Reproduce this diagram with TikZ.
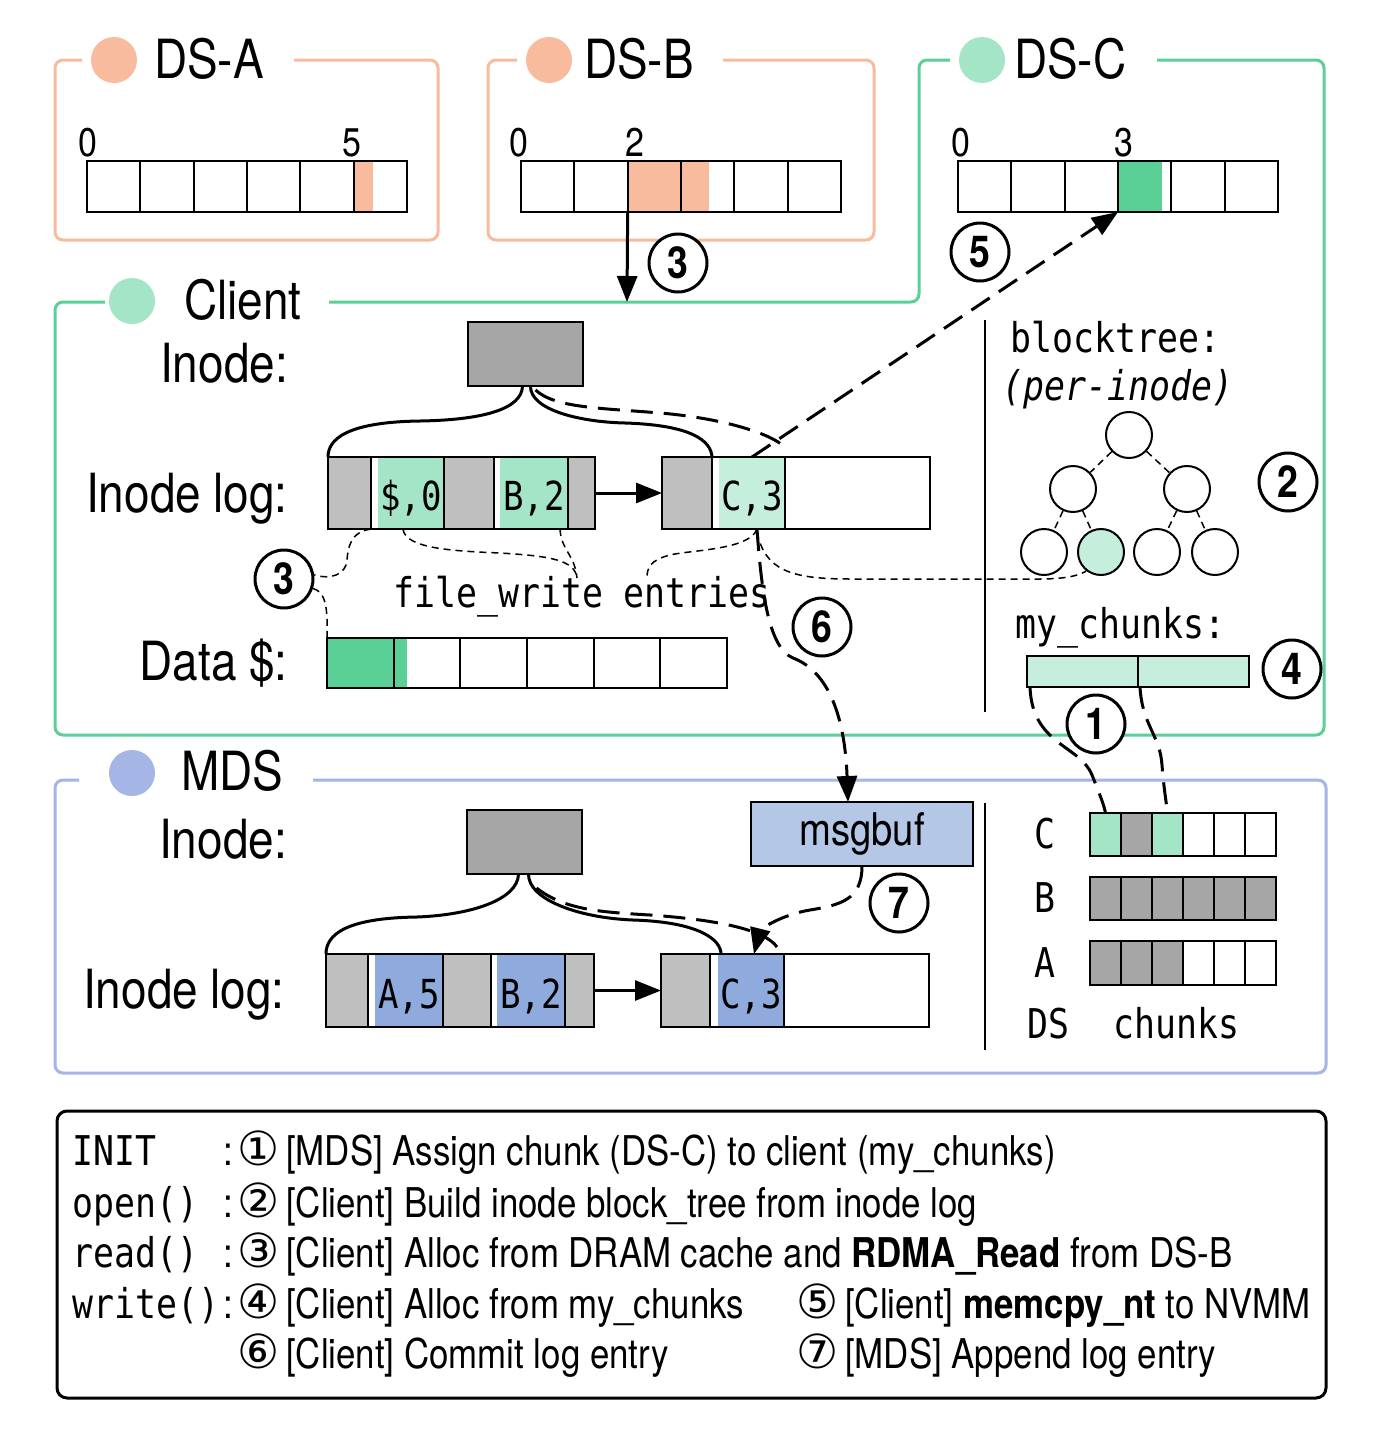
\documentclass[tikz,border=0pt]{standalone}
\usepackage{fontspec}
\usetikzlibrary{arrows.meta}
\newfontfamily\nsans[FakeStretch=0.85]{TeX Gyre Heros}
\newfontfamily\nmono[FakeStretch=0.85]{DejaVu Sans Mono}
\newfontfamily\dvs{DejaVu Sans}
\newcommand\ftitle{\nsans\fontsize{54}{60}\selectfont}
\newcommand\fdigit{\nsans\fontsize{40}{48}\selectfont}
\newcommand\fmsg{\nsans\fontsize{45}{50}\selectfont}
\newcommand\fmono{\nmono\fontsize{41}{48}\selectfont}
\newcommand\fentry{\nmono\fontsize{40}{48}\selectfont}
\newcommand\fnum{\nsans\bfseries\fontsize{44}{48}\selectfont}
\newcommand\fleg{\nsans\fontsize{41}{48}\selectfont}
\newcommand\fcirc{\dvs\fontsize{47}{54}\selectfont}
\definecolor{orng}{HTML}{F9BB9D}
\definecolor{grnline}{HTML}{5ACF96}
\definecolor{dkgrn}{HTML}{5ACF96}
\definecolor{mint}{HTML}{A3E5C6}
\definecolor{lmint}{HTML}{C5EEDC}
\definecolor{blueline}{HTML}{A4B5E6}
\definecolor{entblue}{HTML}{8FAADC}
\definecolor{msgblue}{HTML}{B4C7E7}
\definecolor{hgray}{HTML}{BFBFBF}
\definecolor{igray}{HTML}{A6A6A6}
\tikzset{
  cellbox/.style={draw, line width=2pt, inner sep=0pt, outer sep=0pt, rectangle},
  frameline/.style={line width=3pt, rounded corners=8pt},
  dot/.style={circle, minimum size=46pt, inner sep=0pt},
  numc/.style={circle, draw, line width=3pt, fill=white, minimum size=58pt, inner sep=0pt, font=\fnum},
  tnode/.style={circle, draw, line width=2pt, minimum size=46pt, inner sep=0pt},
  solidcurve/.style={line width=3pt},
  dcurve/.style={line width=3pt, dash pattern=on 22pt off 11pt},
  tdash/.style={line width=1.5pt, dash pattern=on 7pt off 5pt},
  tip/.style={-{Triangle[length=26pt,width=20pt]}},
  titletext/.style={anchor=base west, inner sep=0pt, font=\ftitle},
  labeltext/.style={anchor=base east, inner sep=0pt, font=\ftitle},
  digittext/.style={anchor=base, inner sep=0pt, font=\fdigit},
  entrytext/.style={anchor=base, inner sep=0pt, font=\fentry},
  monotext/.style={anchor=base west, inner sep=0pt, font=\fmono},
  legtext/.style={anchor=base west, inner sep=0pt, font=\fleg},
}
\newcommand\cellnode[6]{\node[cellbox, minimum width={(#4-#2)*1pt}, minimum height={(#5-#3)*1pt}, #6] (#1) at ({(#2+#4)/2},{(#3+#5)/2}) {};}
\begin{document}
\begin{tikzpicture}[x=1pt,y=-1pt]
\useasboundingbox (0,0) rectangle (1392,1446);
\fill[white] (0,0) rectangle (1392,1446);

% ---------------- DS-A
\draw[frameline, orng] (82,60) -- (55,60) -- (55,240) -- (438,240) -- (438,60) -- (294,60);
\node[dot, fill=orng] (dsadot) at (114,60) {};
\node[titletext] (dsat) at (154,78) {DS-A};
\fill[orng] (353,161) rectangle (373,212);
\foreach \i in {0,...,5} {
  \pgfmathsetmacro\xa{87+\i*53.333}\pgfmathsetmacro\xb{\xa+53.333}
  \cellnode{dsa\i}{\xa}{161}{\xb}{212}{}
}
\node[digittext] (dsal0) at (88,156) {0};
\node[digittext] (dsal5) at (352,156) {5};

% ---------------- DS-B
\draw[frameline, orng] (517,60) -- (488,60) -- (488,240) -- (874,240) -- (874,60) -- (723,60);
\node[dot, fill=orng] (dsbdot) at (549,60) {};
\node[titletext] (dsbt) at (584,78) {DS-B};
\fill[orng] (628,161) rectangle (709,212);
\foreach \i in {0,...,5} {
  \pgfmathsetmacro\xa{521+\i*53.333}\pgfmathsetmacro\xb{\xa+53.333}
  \cellnode{dsb\i}{\xa}{161}{\xb}{212}{}
}
\node[digittext] (dsbl0) at (519,156) {0};
\node[digittext] (dsbl2) at (635,156) {2};

% ---------------- Client + DS-C frame
\draw[frameline, grnline] (105,302) -- (55,302) -- (55,735) -- (1324,735) -- (1324,60) -- (1157,60);
\draw[frameline, grnline] (950,60) -- (919,60) -- (919,302) -- (329,302);
\node[dot, fill=mint] (dscdot) at (982,60) {};
\node[titletext] (dsct) at (1014,78) {DS-C};
\node[dot, fill=mint] (cldot) at (132,301) {};
\node[titletext] (clt) at (184,319) {Client};
\coordinate (cltop) at (627,302);

\fill[dkgrn] (1118,161) rectangle (1162,212);
\foreach \i in {0,...,5} {
  \pgfmathsetmacro\xa{958+\i*53.333}\pgfmathsetmacro\xb{\xa+53.333}
  \cellnode{dsc\i}{\xa}{161}{\xb}{212}{}
}
\node[digittext] (dscl0) at (961,156) {0};
\node[digittext] (dscl3) at (1124,156) {3};

% DS-B read arrow
\draw[line width=3pt, tip] (dsb2.south west) -- (cltop);
\node[numc] (n3a) at (678,263) {3};

% Client labels
\node[labeltext] (cinl) at (288,382) {Inode:};
\node[labeltext] (clogl) at (288,512) {Inode log:};
\node[labeltext] (cdatal) at (288,680) {Data \$:};

% client inode
\node[cellbox, fill=igray, minimum width=115pt, minimum height=64pt] (cinode) at (525.5,354) {};

% client log block 1
\fill[hgray] (328,457) rectangle (371,529);
\fill[mint] (378,457) rectangle (444,529);
\fill[hgray] (444,457) rectangle (494,529);
\fill[mint] (500,457) rectangle (568,529);
\fill[hgray] (568,457) rectangle (595,529);
\cellnode{clog1}{328}{457}{595}{529}{}
\cellnode{ce1}{371}{457}{444}{529}{}
\cellnode{ce2}{494}{457}{568}{529}{}
\node[entrytext] (ce1t) at (411,510) {\$,0};
\node[entrytext] (ce2t) at (534,510) {B,2};
% client log block 2
\fill[hgray] (662,457) rectangle (712,529);
\fill[lmint] (719,457) rectangle (785,529);
\cellnode{clog2}{662}{457}{930}{529}{}
\cellnode{ce3}{712}{457}{785}{529}{}
\node[entrytext] (ce3t) at (752,510) {C,3};
\draw[line width=3pt, tip] (clog1.east) -- (clog2.west);

% data cache
\fill[dkgrn] (327,638) rectangle (407,688);
\foreach \i in {0,...,5} {
  \pgfmathsetmacro\xa{327+\i*66.667}\pgfmathsetmacro\xb{\xa+66.667}
  \cellnode{dc\i}{\xa}{638}{\xb}{688}{}
}

% inode curves (client)
\draw[solidcurve] ([xshift=-3pt]cinode.south) .. controls (522,410) and (480,420) .. (420,421) .. controls (345,422) and (328,440) .. (clog1.north west);
\draw[solidcurve] ([xshift=5pt]cinode.south) .. controls (530,410) and (580,422) .. (625,423) .. controls (690,425) and (711,440) .. (ce3.north west);
\draw[dcurve] ([xshift=10pt,yshift=-4pt]cinode.south) .. controls (555,408) and (600,408) .. (660,413) .. controls (720,418) and (765,432) .. (781,444);

% file_write entries
\node[monotext] (fwe) at (393,607) {file\_write entries};
\coordinate (fwj) at (577,578);
\coordinate (fwe2) at (647,578);
\draw[tdash] ([xshift=32pt]ce1.south west) .. controls (405,548) and (450,551) .. (500,553) .. controls (550,556) and (575,560) .. (fwj);
\draw[tdash] ([xshift=66pt]ce2.south west) .. controls (561,550) and (575,555) .. (fwj);
\draw[tdash] ([xshift=-28pt]ce3.south east) .. controls (750,550) and (690,550) .. (670,555) .. controls (650,560) and (647,568) .. (fwe2);

% client read (3)
\node[numc] (n3b) at (284,579) {3};
\draw[tdash] (ce1.south west) .. controls (350,532) and (348,548) .. (347,560) .. controls (346,575) and (330,580) .. (n3b.8);
\draw[tdash] (n3b.-18) .. controls (325,592) and (328,605) .. (dc0.north west);

% ---- blocktree
\draw[line width=2pt] (985,320) -- (985,712);
\node[monotext] (btl) at (1010,352) {blocktree:};
\node[monotext] (btl2) at (1002,400) {\itshape(per-inode)};
\node[tnode] (t1) at (1129,435) {};
\node[tnode] (t2) at (1073,489) {};
\node[tnode] (t3) at (1187,489) {};
\node[tnode] (t4) at (1044,552) {};
\node[tnode, fill=lmint] (t5) at (1101,552) {};
\node[tnode] (t6) at (1157,552) {};
\node[tnode] (t7) at (1215,552) {};
\draw[tdash] (t1) -- (t2);
\draw[tdash] (t1) -- (t3);
\draw[tdash] (t2) -- (t4);
\draw[tdash] (t2) -- (t5);
\draw[tdash] (t3) -- (t6);
\draw[tdash] (t3) -- (t7);
\node[numc] (n2) at (1288,482) {2};
\draw[tdash] ([xshift=-28pt,yshift=-3pt]ce3.south east) .. controls (765,570) and (790,579) .. (850,579) -- (1040,579) .. controls (1070,579) and (1082,574) .. (t5.-128);

% my_chunks
\node[monotext] (mcl) at (1015,638) {my\_chunks:};
\cellnode{mc1}{1027}{656}{1138}{687}{fill=lmint}
\cellnode{mc2}{1138}{656}{1249}{687}{fill=lmint}
\node[numc] (n4) at (1292,669) {4};

% (5) write arrow to DS-C
\draw[dcurve, tip] ([xshift=-33pt]ce3.north east) -- (dsc3.south west);
\node[numc] (n5) at (980,252) {5};

% ---------------- MDS
\draw[frameline, blueline] (79,780) -- (55,780) -- (55,1073) -- (1326,1073) -- (1326,780) -- (313,780);
\node[dot, fill=blueline] (mdsdot) at (132,773) {};
\node[titletext] (mdst) at (181,790) {MDS};
\node[labeltext] (minl) at (287,858) {Inode:};
\node[labeltext] (mlogl) at (285,1008) {Inode log:};
\node[cellbox, fill=igray, minimum width=115pt, minimum height=64pt] (minode) at (524.5,842) {};
\node[cellbox, fill=msgblue, minimum width=222pt, minimum height=64pt, font=\fmsg] (msgbuf) at (862,834) {msgbuf};

% mds log block 1
\fill[hgray] (326,954) rectangle (368,1027);
\fill[entblue] (375,954) rectangle (443,1027);
\fill[hgray] (443,954) rectangle (491,1027);
\fill[entblue] (497,954) rectangle (565,1027);
\fill[hgray] (565,954) rectangle (594,1027);
\cellnode{mlog1}{326}{954}{594}{1027}{}
\cellnode{me1}{368}{954}{443}{1027}{}
\cellnode{me2}{491}{954}{565}{1027}{}
\node[entrytext] (me1t) at (409,1008) {A,5};
\node[entrytext] (me2t) at (531,1008) {B,2};
% mds log block 2
\fill[hgray] (661,954) rectangle (710,1027);
\fill[entblue] (718,954) rectangle (784,1027);
\cellnode{mlog2}{661}{954}{929}{1027}{}
\cellnode{me3}{710}{954}{784}{1027}{}
\node[entrytext] (me3t) at (751,1008) {C,3};
\draw[line width=3pt, tip] (mlog1.east) -- (mlog2.west);

\draw[solidcurve] ([xshift=-6pt]minode.south) .. controls (518,900) and (470,915) .. (417,917) .. controls (345,918) and (326,935) .. (mlog1.north west);
\draw[solidcurve] ([xshift=4pt]minode.south) .. controls (528,900) and (580,918) .. (633,920) .. controls (700,922) and (721,940) .. ([xshift=11pt]me3.north west);
\draw[dcurve] ([xshift=12pt,yshift=-14pt]minode.south) .. controls (565,910) and (600,912) .. (650,915) .. controls (720,920) and (765,930) .. (777,947);

% (6) commit arrow
\draw[dcurve, tip] ([xshift=-28pt]ce3.south east) .. controls (762,600) and (770,648) .. (793,658) .. controls (830,672) and (845,720) .. ([xshift=-14pt]msgbuf.north);
\node[numc] (n6) at (822,627) {6};
% (7) append arrow
\draw[dcurve, tip] (msgbuf.south) .. controls (862,900) and (840,905) .. (810,910) .. controls (780,915) and (760,930) .. ([xshift=-30pt]me3.north east);
\node[numc] (n7) at (899,903) {7};

% DS chunks
\draw[line width=2pt] (985,803) -- (985,1050);
\foreach \i/\c in {0/mint,1/igray,2/mint,3/white,4/white,5/white} {
  \pgfmathsetmacro\xa{1090+\i*31}\pgfmathsetmacro\xb{\xa+31}
  \cellnode{chc\i}{\xa}{813}{\xb}{856}{fill=\c}
}
\foreach \i in {0,...,5} {
  \pgfmathsetmacro\xa{1090+\i*31}\pgfmathsetmacro\xb{\xa+31}
  \cellnode{chb\i}{\xa}{877}{\xb}{920}{fill=igray}
}
\foreach \i/\c in {0/igray,1/igray,2/igray,3/white,4/white,5/white} {
  \pgfmathsetmacro\xa{1090+\i*31}\pgfmathsetmacro\xb{\xa+31}
  \cellnode{cha\i}{\xa}{941}{\xb}{985}{fill=\c}
}
\node[inner sep=0pt, font=\fmono] (lc) at (1045,834) {C};
\node[inner sep=0pt, font=\fmono] (lb) at (1045,898) {B};
\node[inner sep=0pt, font=\fmono] (la) at (1045,963) {A};
\node[monotext] (lds) at (1027,1038) {DS};
\node[monotext] (lch) at (1113,1038) {chunks};

% (1) chunk assignment
\draw[dcurve] ([xshift=3pt]mc1.south west) .. controls (1032,745) and (1080,745) .. (1092,775) .. controls (1100,795) and (1104,805) .. (chc0.north);
\draw[dcurve] ([xshift=2pt]mc2.south west) .. controls (1142,725) and (1160,735) .. (1162,765) .. controls (1164,790) and (1166,800) .. (chc2.north);
\node[numc] (n1) at (1096,724) {1};

% ---------------- Legend
\draw[line width=3pt, rounded corners=10pt] (57,1111) rectangle (1326,1398);
\node[monotext] (lg1a) at (72,1165) {INIT};
\node[monotext] (lg2a) at (72,1217) {open()};
\node[monotext] (lg3a) at (72,1267) {read()};
\node[monotext] (lg4a) at (72,1318) {write()};
\foreach \y/\n in {1165/1,1217/2,1267/3,1318/4} {
  \node[legtext] (lgc\n) at (223,\y) {:};
}
\node[legtext] (lg1) at (237,1165) {{\fcirc ①}\,[MDS] Assign chunk (DS-C) to client (my\_chunks)};
\node[legtext] (lg2) at (237,1217) {{\fcirc ②}\,[Client] Build inode block\_tree from inode log};
\node[legtext] (lg3) at (237,1267) {{\fcirc ③}\,[Client] Alloc from DRAM cache and \textbf{RDMA\_Read} from DS-B};
\node[legtext] (lg4) at (237,1318) {{\fcirc ④}\,[Client] Alloc from my\_chunks};
\node[legtext] (lg6) at (237,1368) {{\fcirc ⑥}\,[Client] Commit log entry};
\node[legtext] (lg5) at (796,1318) {{\fcirc ⑤}\,[Client] \textbf{memcpy\_nt} to NVMM};
\node[legtext] (lg7) at (796,1368) {{\fcirc ⑦}\,[MDS] Append log entry};
\end{tikzpicture}
\end{document}
